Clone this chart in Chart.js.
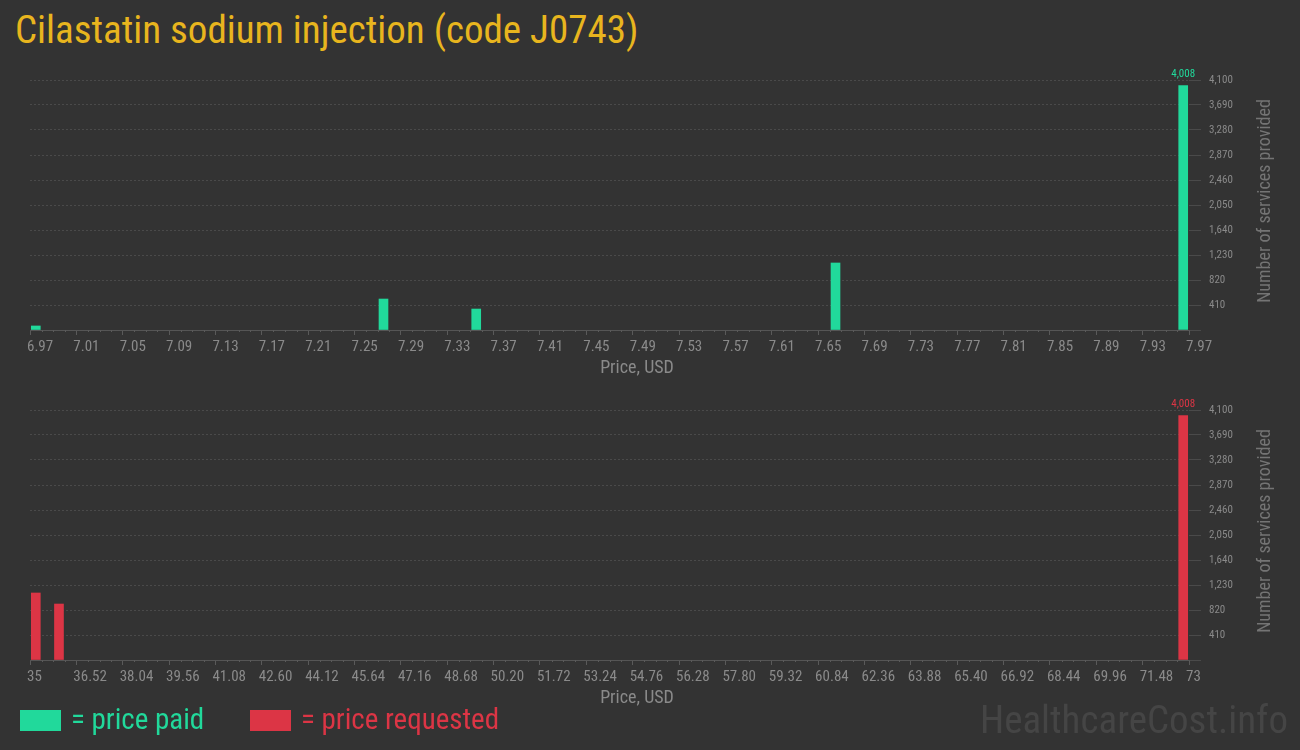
<!DOCTYPE html>
<html>
<head>
<meta charset="utf-8">
<script src="https://cdn.jsdelivr.net/npm/chart.js@4.4.1/dist/chart.umd.min.js"></script>
<style>
    body { margin: 0; background: #333333; width: 1300px; height: 750px; overflow: hidden; position: relative; font-family: "Roboto Condensed", "Liberation Sans Narrow", "DejaVu Sans Condensed", sans-serif; }
    #title { position: absolute; left: 15px; top: 7px; font-size: 39px; color: #e8b51e; white-space: nowrap; }
    .chartBox { position: absolute; left: 0; width: 1300px; height: 325px; }
    #paidBox { top: 60px; }
    #reqBox { top: 390px; }
    .legend { position: absolute; top: 702px; font-size: 29px; white-space: nowrap; }
    .legend span.sw { display: inline-block; width: 41px; height: 21px; vertical-align: -2px; margin-right: 10px; }
    #legPaid { left: 20px; color: #21d99b; }
    #legPaid .sw { background: #21d99b; }
    #legReq { left: 250px; color: #dc3545; }
    #legReq .sw { background: #dc3545; }
    #brand { position: absolute; right: 12px; top: 697px; font-size: 39px; color: #454545; white-space: nowrap; }
</style>
</head>
<body>
<div id="title">Cilastatin sodium injection (code J0743)</div>
<div class="chartBox" id="paidBox"><canvas id="paidChart"></canvas></div>
<div class="chartBox" id="reqBox"><canvas id="reqChart"></canvas></div>
<div class="legend" id="legPaid"><span class="sw"></span>= price paid</div>
<div class="legend" id="legReq"><span class="sw"></span>= price requested</div>
<div id="brand">HealthcareCost.info</div>

<script>
// price paid histogram (bin start, count)
var paidMin = 6.97;
var paidMax = 7.97;
var paidBinWidth = 0.01;
var paidBins = [6.97, 7.27, 7.35, 7.66, 7.96];
var paidCounts = [66, 508, 344, 1099, 4008];

// price requested histogram
var reqMin = 35;
var reqMax = 73;
var reqBinWidth = 0.38;
var reqBins = [35, 35.76, 72.62];
var reqCounts = [1099, 918, 4008];

// y axis ticks (both charts)
var yMax = 4100;
var yStep = 410;

var fontFamily = '"Roboto Condensed", "Liberation Sans Narrow", "DejaVu Sans Condensed", sans-serif';
var tickGray = '#8a8a8a';

function fmtPrice(v) {
    v = Math.round(v * 100) / 100;
    return Number.isInteger(v) ? String(v) : v.toFixed(2);
}

// short minor ticks, max value label, axis titles
var extrasPlugin = {
    id: 'extras',
    afterDraw: function(chart) {
        var ctx = chart.ctx;
        var x = chart.scales.x;
        var area = chart.chartArea;
        ctx.save();
        ctx.strokeStyle = '#5a5a5a';
        ctx.lineWidth = 1;
        x.ticks.forEach(function(t, i) {
            if (i % 4 === 0) return;
            var px = Math.round(x.getPixelForValue(t.value)) + 0.5;
            ctx.beginPath();
            ctx.moveTo(px, area.bottom);
            ctx.lineTo(px, area.bottom + 2);
            ctx.stroke();
        });

        // value label over the tallest bar
        var ds = chart.data.datasets[0];
        var meta = chart.getDatasetMeta(0);
        var best = 0;
        ds.data.forEach(function(d, i) { if (d.y > ds.data[best].y) best = i; });
        var bar = meta.data[best];
        ctx.fillStyle = ds.backgroundColor;
        ctx.font = '11px ' + fontFamily;
        ctx.textAlign = 'center';
        ctx.textBaseline = 'bottom';
        ctx.fillText(ds.data[best].y.toLocaleString('en-US'), bar.x, bar.y - 6);

        // x axis title
        ctx.fillStyle = tickGray;
        ctx.font = '18px ' + fontFamily;
        ctx.textBaseline = 'middle';
        ctx.fillText('Price, USD', chart.width / 2 - 13, x.bottom - 17);

        // y axis title, reading upwards
        ctx.translate(1265, (area.top + area.bottom) / 2 - 4);
        ctx.rotate(-Math.PI / 2);
        ctx.fillStyle = '#747474';
        ctx.font = '18px ' + fontFamily;
        ctx.fillText('Number of services provided', 0, 0);
        ctx.restore();
    }
};

function makeChart(canvasId, bins, counts, binWidth, xMin, xMax, color) {
    var points = bins.map(function(b, i) {
        return { x: b + binWidth / 2, y: counts[i] };
    });
    return new Chart(document.getElementById(canvasId), {
        type: 'bar',
        data: {
            datasets: [{
                data: points,
                backgroundColor: color,
                barThickness: 9
            }]
        },
        options: {
            responsive: true,
            maintainAspectRatio: false,
            animation: false,
            layout: { padding: { left: 30, top: 20, right: 0, bottom: 0 } },
            plugins: { legend: { display: false }, tooltip: { enabled: false } },
            scales: {
                x: {
                    type: 'linear',
                    min: xMin,
                    max: xMax,
                    offset: false,
                    afterFit: function(scale) { scale.height = 55; },
                    border: { display: true, color: '#555555', width: 1 },
                    grid: {
                        offset: false,
                        drawOnChartArea: false,
                        tickLength: 5,
                        tickColor: function(c) { return c.index % 4 === 0 ? '#5a5a5a' : 'rgba(0,0,0,0)'; }
                    },
                    ticks: {
                        stepSize: binWidth,
                        autoSkip: false,
                        maxRotation: 0,
                        align: 'start',
                        labelOffset: -3,
                        padding: 3,
                        color: tickGray,
                        font: { family: fontFamily, size: 15 },
                        callback: function(v, i) { return i % 4 === 0 ? fmtPrice(v) : ''; }
                    }
                },
                y: {
                    position: 'right',
                    min: 0,
                    max: yMax,
                    afterFit: function(scale) { scale.width = 111; },
                    border: { display: false, dash: [2, 2] },
                    grid: {
                        color: '#4a4a4a',
                        tickLength: 12,
                        tickColor: '#4a4a4a',
                        drawTicks: true
                    },
                    ticks: {
                        stepSize: yStep,
                        padding: 8,
                        color: tickGray,
                        font: { family: fontFamily, size: 11 },
                        callback: function(v) { return v === 0 ? '' : v.toLocaleString('en-US'); }
                    }
                }
            }
        },
        plugins: [extrasPlugin]
    });
}

var paidChart = makeChart('paidChart', paidBins, paidCounts, paidBinWidth, paidMin, paidMax, '#21d99b');
var reqChart = makeChart('reqChart', reqBins, reqCounts, reqBinWidth, reqMin, reqMax, '#dc3545');
</script>
</body>
</html>
